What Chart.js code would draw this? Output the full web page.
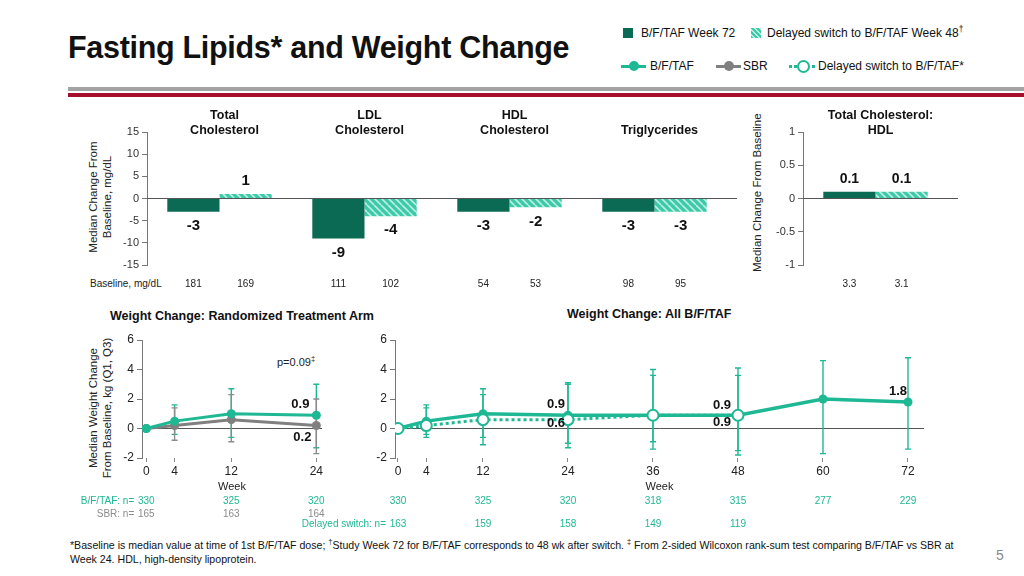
<!DOCTYPE html>
<html>
<head>
<meta charset="utf-8">
<script src="https://cdn.jsdelivr.net/npm/chart.js@4.4.1/dist/chart.umd.min.js"></script>
<style>
body { margin: 0; width: 1024px; height: 576px; position: relative; background: #fff; overflow: hidden;
       font-family: "Liberation Sans", Arial, sans-serif; color: #111; }
.abs { position: absolute; white-space: nowrap; }
canvas { position: absolute; }
.title { left: 68px; top: 30px; font-size: 30.5px; font-weight: bold; letter-spacing: -0.3px; }
.rule-grey { left: 68px; top: 87px; width: 956px; height: 4px; background: #a3a3a3; }
.rule-red { left: 68px; top: 93px; width: 956px; height: 4px; background: #a50f2d; }
.leg { font-size: 12px; line-height: 14px; }
.sq { width: 10px; height: 10px; }
.hatch { background: repeating-linear-gradient(45deg, #3ccaa9 0 2px, #b9eee0 2px 3.5px); }
.vtitle { font-size: 11.5px; line-height: 14px; text-align: center; transform: rotate(-90deg); color: #222; }
.sub { font-size: 12.5px; font-weight: bold; }
.foot { left: 70px; font-family: "Liberation Sans Narrow", "Liberation Sans", Arial, sans-serif; font-size: 10.6px; color: #111; }
sup { font-size: 70%; line-height: 0; }
</style>
</head>
<body>
<div class="abs title">Fasting Lipids* and Weight Change</div>
<div class="abs rule-grey"></div>
<div class="abs rule-red"></div>

<!-- legend -->
<div class="abs sq" style="left:623px; top:28px; background:#0b6a53"></div>
<div class="abs leg" style="left:641px; top:26px">B/F/TAF Week 72</div>
<div class="abs sq hatch" style="left:751px; top:28px"></div>
<div class="abs leg" style="left:767px; top:26px">Delayed switch to B/F/TAF Week 48<sup>†</sup></div>

<div class="abs" style="left:621px; top:65px; width:25px; height:3px; background:#1fb894"></div>
<div class="abs" style="left:629px; top:61px; width:10px; height:10px; border-radius:50%; background:#1fb894"></div>
<div class="abs leg" style="left:650px; top:59px">B/F/TAF</div>
<div class="abs" style="left:716px; top:65px; width:25px; height:3px; background:#808080"></div>
<div class="abs" style="left:724px; top:61px; width:10px; height:10px; border-radius:50%; background:#808080"></div>
<div class="abs leg" style="left:743px; top:59px">SBR</div>
<div class="abs" style="left:789px; top:65px; width:26px; height:0; border-top:3px dotted #1fb894"></div>
<div class="abs" style="left:797px; top:60px; width:9px; height:9px; border-radius:50%; border:2px solid #1fb894; background:#fff"></div>
<div class="abs leg" style="left:818px; top:59px">Delayed switch to B/F/TAF*</div>

<!-- axis titles -->
<div class="abs vtitle" style="left:30px; top:183px; width:140px">Median Change From<br>Baseline, mg/dL</div>
<div class="abs vtitle" style="left:682px; top:190px; width:150px">Median Change From Baseline</div>
<div class="abs vtitle" style="left:15px; top:394px; width:170px">Median Weight Change<br>From Baseline, kg (Q1, Q3)</div>
<div class="abs" style="left:90px; top:278px; font-size:10px; font-family:'Liberation Sans Narrow','Liberation Sans',sans-serif; color:#222">Baseline, mg/dL</div>

<div class="abs sub" style="left:110px; top:309px">Weight Change: Randomized Treatment Arm</div>
<div class="abs sub" style="left:567px; top:307px">Weight Change: All B/F/TAF</div>
<div class="abs" style="left:277px; top:356px; font-size:11px; color:#222">p=0.09<sup>‡</sup></div>

<canvas id="lipidChart" width="680" height="200" style="left:80px; top:100px"></canvas>
<canvas id="ratioChart" width="264" height="200" style="left:760px; top:100px"></canvas>
<canvas id="randChart" width="272" height="215" style="left:60px; top:322px"></canvas>
<canvas id="allChart" width="644" height="215" style="left:290px; top:322px"></canvas>

<div class="abs foot" style="top:539px">*Baseline is median value at time of 1st B/F/TAF dose; <sup>†</sup>Study Week 72 for B/F/TAF corresponds to 48 wk after switch. <sup>‡</sup> From 2-sided Wilcoxon rank-sum test comparing B/F/TAF vs SBR at</div>
<div class="abs foot" style="top:553px">Week 24. HDL, high-density lipoprotein.</div>
<div class="abs" style="left:996px; top:547px; font-size:14px; color:#8a8a8a">5</div>

<script>
// Lipid panel data (median change from baseline, mg/dL)
const lipidCategories = [['Total', 'Cholesterol'], ['LDL', 'Cholesterol'], ['HDL', 'Cholesterol'], ['Triglycerides']];
const lipidWeek72 = [-3, -9, -3, -3];
const lipidSwitch48 = [1, -4, -2, -3];
const lipidBaselineWeek72 = [181, 111, 54, 98];
const lipidBaselineSwitch = [169, 102, 53, 95];
const lipidTicks = [15, 10, 5, 0, -5, -10, -15];

// Total cholesterol : HDL ratio
const ratioCategories = [['Total Cholesterol:', 'HDL']];
const ratioWeek72 = [0.1];
const ratioSwitch48 = [0.1];
const ratioBaselineWeek72 = [3.3];
const ratioBaselineSwitch = [3.1];
const ratioTicks = [1, 0.5, 0, -0.5, -1];

// Weight change, randomized arm (kg)
const randWeeks = [0, 4, 12, 24];
const randBftaf = [0, 0.5, 1.0, 0.9];
const randBftafQ1 = [0, -0.4, -0.6, -1.3];
const randBftafQ3 = [0, 1.6, 2.7, 3.0];
const randSbr = [0, 0.2, 0.6, 0.2];
const randSbrQ1 = [0, -0.8, -0.9, -1.7];
const randSbrQ3 = [0, 1.4, 2.3, 2.0];
const randNWeeks = [0, 12, 24];
const randNBftaf = [330, 325, 320];
const randNSbr = [165, 163, 164];

// Weight change, all B/F/TAF (kg)
const allWeeks = [0, 4, 12, 24, 36, 48, 60, 72];
const allBftaf = [0, 0.5, 1.0, 0.9, 0.9, 0.9, 2.0, 1.8];
const allBftafQ1 = [0, -0.4, -0.6, -1.3, -0.9, -1.5, -1.7, -1.4];
const allBftafQ3 = [0, 1.6, 2.7, 3.0, 3.6, 4.1, 4.6, 4.8];
const switchWeeks = [0, 4, 12, 24, 36, 48];
const switchBftaf = [0, 0.2, 0.6, 0.6, 0.9, 0.9];
const switchQ1 = [0, -0.6, -1.1, -1.0, -1.4, -1.8];
const switchQ3 = [0, 1.4, 2.3, 3.1, 4.0, 3.6];
const allNWeeks = [0, 12, 24, 36, 48, 60, 72];
const allNBftaf = [330, 325, 320, 318, 315, 277, 229];
const switchNWeeks = [0, 12, 24, 36, 48];
const switchN = [163, 159, 158, 149, 119];

const weightTicks = [-2, 0, 2, 4, 6];

const DARK = '#0b6a53';
const TEAL = '#1fb894';
const GREY = '#808080';
const FONT = '"Liberation Sans", Arial, sans-serif';
const NARROW = '"Liberation Sans Narrow", "Liberation Sans", Arial, sans-serif';

// diagonal hatch fill for the delayed-switch bars
function makeHatch() {
    const c = document.createElement('canvas');
    c.width = 7; c.height = 7;
    const g = c.getContext('2d');
    g.fillStyle = '#3ccaa9';
    g.fillRect(0, 0, 7, 7);
    g.strokeStyle = '#bdeee1';
    g.lineWidth = 1.6;
    g.beginPath();
    [-7, 0, 7].forEach(k => { g.moveTo(k, 0); g.lineTo(k + 7, 7); });
    g.stroke();
    return g.createPattern(c, 'repeat');
}
const hatch = makeHatch();

// headers, value labels, baseline row and zero line for the bar panels
const barExtras = {
    id: 'barExtras',
    afterDatasetsDraw(chart, args, opts) {
        const { ctx, chartArea, scales } = chart;
        ctx.save();
        const y0 = scales.y.getPixelForValue(0);
        ctx.strokeStyle = '#555';
        ctx.lineWidth = 1;
        ctx.beginPath();
        ctx.moveTo(chartArea.left, y0);
        ctx.lineTo(chartArea.right + opts.extend, y0);
        ctx.stroke();

        ctx.textAlign = 'center';
        ctx.textBaseline = 'middle';
        ctx.fillStyle = '#111';
        ctx.font = 'bold 12.5px ' + FONT;
        chart.data.labels.forEach((lines, i) => {
            const x = scales.x.getPixelForValue(i) + 5;
            lines.forEach((t, j) => ctx.fillText(t, x, 31 - (lines.length - 1 - j) * 15));
        });

        chart.data.datasets.forEach((ds, di) => {
            chart.getDatasetMeta(di).data.forEach((bar, i) => {
                const v = ds.data[i];
                ctx.fillStyle = '#111';
                ctx.font = 'bold ' + opts.valueSize + 'px ' + FONT;
                ctx.fillText(String(v), bar.x, v >= 0 ? bar.y - 13 : bar.y + 14);
                ctx.fillStyle = '#222';
                ctx.font = '10px ' + NARROW;
                ctx.fillText(String(ds.baseline[i]), bar.x, 184);
            });
        });
        ctx.restore();
    }
};

function barChart(id, labels, week72, switch48, base72, baseSwitch, ticks, yWidth, padRight, valueSize) {
    return new Chart(document.getElementById(id), {
        type: 'bar',
        data: {
            labels: labels,
            datasets: [
                { data: week72, baseline: base72, backgroundColor: DARK,
                  categoryPercentage: 0.72, barPercentage: 1 },
                { data: switch48, baseline: baseSwitch, backgroundColor: hatch,
                  categoryPercentage: 0.72, barPercentage: 1 }
            ]
        },
        options: {
            responsive: false,
            animation: false,
            layout: { padding: { top: 32, bottom: 35, left: 0, right: padRight } },
            plugins: { legend: { display: false }, tooltip: { enabled: false },
                       barExtras: { extend: 10, valueSize: valueSize } },
            scales: {
                x: { display: false },
                y: {
                    min: Math.min(...ticks), max: Math.max(...ticks),
                    afterBuildTicks: s => { s.ticks = ticks.map(v => ({ value: v })); },
                    ticks: { font: { size: 11, family: FONT }, color: '#333', padding: 3,
                             callback: v => String(v) },
                    grid: { drawOnChartArea: false, tickLength: 5, color: '#777' },
                    border: { color: '#777' },
                    afterFit: s => { s.width = yWidth; }
                }
            }
        },
        plugins: [barExtras]
    });
}

barChart('lipidChart', lipidCategories, lipidWeek72, lipidSwitch48, lipidBaselineWeek72, lipidBaselineSwitch,
         lipidTicks, 67, 33, 15);
barChart('ratioChart', ratioCategories, ratioWeek72, ratioSwitch48, ratioBaselineWeek72, ratioBaselineSwitch,
         ratioTicks, 43, 76, 14);

// zero line, quartile bars, value labels and n rows for the weight panels
const weightExtras = {
    id: 'weightExtras',
    beforeDatasetsDraw(chart) {
        const { ctx, chartArea, scales } = chart;
        ctx.save();
        const y0 = scales.y.getPixelForValue(0);
        ctx.strokeStyle = '#555';
        ctx.lineWidth = 1;
        ctx.beginPath();
        ctx.moveTo(chartArea.left, y0);
        ctx.lineTo(chartArea.right, y0);
        ctx.stroke();

        chart.data.datasets.forEach(ds => {
            ctx.strokeStyle = ds.errColor;
            ctx.lineWidth = 1.4;
            ds.data.forEach((p, i) => {
                if (ds.q3[i] <= ds.q1[i]) return;
                const x = scales.x.getPixelForValue(p.x);
                const yt = scales.y.getPixelForValue(ds.q3[i]);
                const yb = scales.y.getPixelForValue(ds.q1[i]);
                ctx.beginPath();
                ctx.moveTo(x, yt); ctx.lineTo(x, yb);
                ctx.moveTo(x - 3, yt); ctx.lineTo(x + 3, yt);
                ctx.moveTo(x - 3, yb); ctx.lineTo(x + 3, yb);
                ctx.stroke();
            });
        });
        ctx.restore();
    },
    afterDatasetsDraw(chart, args, opts) {
        const { ctx, scales } = chart;
        ctx.save();
        ctx.textAlign = 'center';
        ctx.textBaseline = 'middle';
        ctx.fillStyle = '#111';
        ctx.font = 'bold 13px ' + FONT;
        opts.labels.forEach(l => {
            const el = chart.getDatasetMeta(l.ds).data[l.i];
            const v = chart.data.datasets[l.ds].data[l.i].y;
            ctx.fillText(v.toFixed(1), el.x + l.dx, el.y + l.dy);
        });
        ctx.font = '10px ' + FONT;
        opts.rows.forEach(r => {
            ctx.fillStyle = r.color;
            ctx.textAlign = 'center';
            r.weeks.forEach((w, i) => ctx.fillText(String(r.values[i]), scales.x.getPixelForValue(w), r.y));
            if (r.prefix) {
                ctx.textAlign = 'right';
                ctx.fillText(r.prefix, scales.x.getPixelForValue(r.weeks[0]) - 12, r.y);
            }
        });
        ctx.restore();
    }
};

function pts(xs, ys) { return xs.map((x, i) => ({ x: x, y: ys[i] })); }

function weightChart(id, datasets, xMin, xMax, xTicks, yWidth, extras) {
    return new Chart(document.getElementById(id), {
        type: 'line',
        data: { datasets: datasets },
        options: {
            responsive: false,
            animation: false,
            layout: { padding: { top: 18, bottom: 43, left: 0, right: 10 } },
            plugins: { legend: { display: false }, tooltip: { enabled: false }, weightExtras: extras },
            scales: {
                x: {
                    type: 'linear', min: xMin, max: xMax,
                    afterBuildTicks: s => { s.ticks = xTicks.map(v => ({ value: v })); },
                    ticks: { font: { size: 12, family: FONT }, color: '#222', padding: 2 },
                    grid: { drawOnChartArea: false, tickLength: 4, color: '#888' },
                    border: { display: false },
                    title: { display: true, text: 'Week', font: { size: 11, family: FONT }, color: '#222',
                             padding: { top: 2, bottom: 0 } },
                    afterFit: s => { s.height = 36; }
                },
                y: {
                    min: -2, max: 6,
                    afterBuildTicks: s => { s.ticks = weightTicks.map(v => ({ value: v })); },
                    ticks: { font: { size: 12, family: FONT }, color: '#222', padding: 3 },
                    grid: { drawOnChartArea: false, tickLength: 5, color: '#777' },
                    border: { color: '#777' },
                    afterFit: s => { s.width = yWidth; }
                }
            }
        },
        plugins: [weightExtras]
    });
}

weightChart('randChart', [
    { data: pts(randWeeks, randBftaf), q1: randBftafQ1, q3: randBftafQ3, errColor: TEAL,
      borderColor: TEAL, borderWidth: 3, pointRadius: 4.5, pointBackgroundColor: TEAL, pointBorderWidth: 0, order: 1 },
    { data: pts(randWeeks, randSbr), q1: randSbrQ1, q3: randSbrQ3, errColor: '#8c8c8c',
      borderColor: GREY, borderWidth: 3, pointRadius: 4.5, pointBackgroundColor: GREY, pointBorderWidth: 0, order: 2 }
], -0.6, 24.8, randWeeks, 82, {
    labels: [{ ds: 0, i: 3, dx: -16, dy: -11 }, { ds: 1, i: 3, dx: -14, dy: 12 }],
    rows: [
        { weeks: randNWeeks, values: randNBftaf, color: TEAL, y: 179, prefix: 'B/F/TAF: n=' },
        { weeks: randNWeeks, values: randNSbr, color: '#8c8c8c', y: 192, prefix: 'SBR: n=' }
    ]
});

weightChart('allChart', [
    { data: pts(switchWeeks, switchBftaf), q1: switchQ1, q3: switchQ3, errColor: TEAL,
      borderColor: TEAL, borderWidth: 3, borderDash: [3, 3], pointRadius: 5.5, pointBackgroundColor: '#fff',
      pointBorderColor: TEAL, pointBorderWidth: 2, order: 1 },
    { data: pts(allWeeks, allBftaf), q1: allBftafQ1, q3: allBftafQ3, errColor: TEAL,
      borderColor: TEAL, borderWidth: 3.5, pointRadius: 4.5, pointBackgroundColor: TEAL, pointBorderWidth: 0, order: 2 }
], -0.42, 74.26, allWeeks, 105, {
    labels: [
        { ds: 1, i: 3, dx: -12, dy: -11 }, { ds: 0, i: 3, dx: -12, dy: 4 },
        { ds: 1, i: 5, dx: -16, dy: -10 }, { ds: 0, i: 5, dx: -16, dy: 7 },
        { ds: 1, i: 7, dx: -10, dy: -11 }
    ],
    rows: [
        { weeks: allNWeeks, values: allNBftaf, color: TEAL, y: 179 },
        { weeks: switchNWeeks, values: switchN, color: TEAL, y: 202, prefix: 'Delayed switch: n=' }
    ]
});
</script>
</body>
</html>
